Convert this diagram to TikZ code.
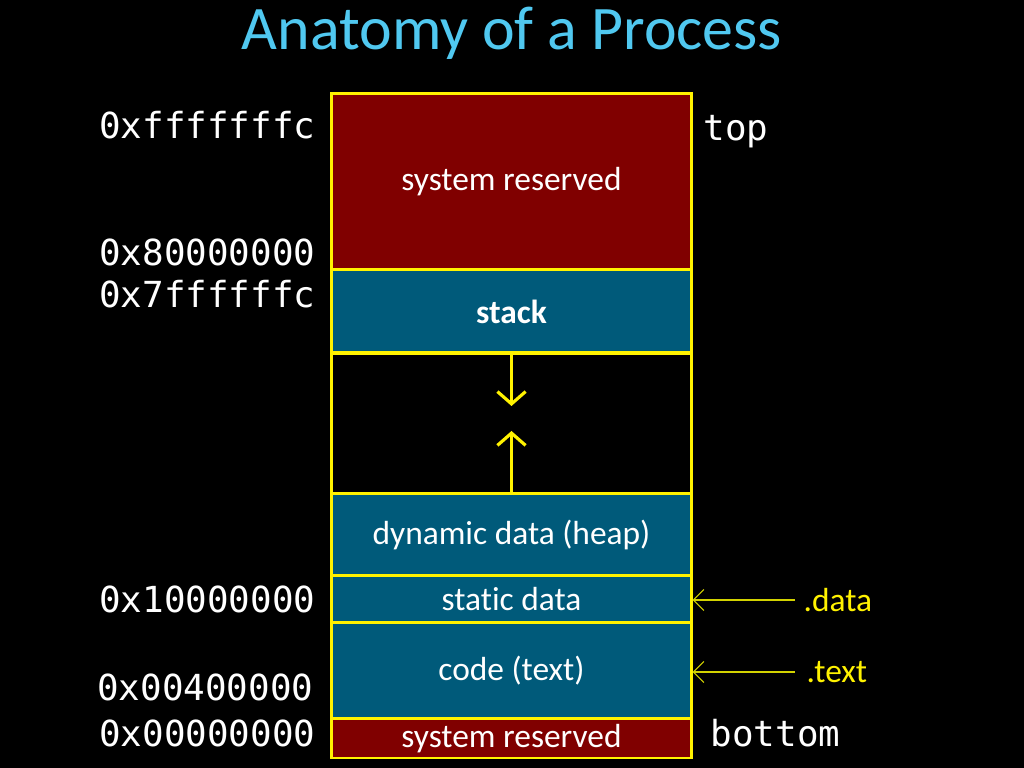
\documentclass[tikz,border=0pt]{standalone}
\usepackage{fontspec}
\setmainfont{Carlito}[Ligatures=NoCommon]
\setmonofont{DejaVu Sans Mono}
\usetikzlibrary{arrows.meta}

\definecolor{sysred}{RGB}{128,0,0}
\definecolor{segblue}{RGB}{0,90,122}
\definecolor{titleblue}{RGB}{80,200,240}
\definecolor{ptryellow}{RGB}{210,210,0}

\begin{document}
\begin{tikzpicture}[
  x=0.01cm, y=-0.01cm,
  % memory segments
  seg/.style={rectangle, draw=yellow, line width=0.85pt, minimum width=3.59cm, inner sep=0pt, text=white, font=\fontsize{9.5}{11}\selectfont},
  sysres/.style={seg, fill=sysred},
  region/.style={seg, fill=segblue},
  % addresses and ends
  addr/.style={text=white, font=\ttfamily\fontsize{10.2}{12}\selectfont, anchor=east, inner sep=0pt},
  % section names
  sect/.style={text=yellow, font=\fontsize{9.5}{11}\selectfont, anchor=west, inner sep=0pt},
  % growth arrows
  growarrow/.style={draw=yellow, line width=0.9pt, -{Straight Barb[length=3.5pt, width=8pt, line width=0.9pt]}},
  % section pointers
  ptr/.style={draw=ptryellow, line width=0.3pt, -{Straight Barb[length=3pt, width=6pt]}}
]

% background and margins
\fill[black] (0,0) rectangle (1024,768);
\useasboundingbox (0,0) rectangle (1024,768);

% === Title ===
\node[text=titleblue, font=\fontsize{17.6}{20}\selectfont] (title) at (512,33) {Anatomy of a Process};

% === Segments, top to bottom ===
\node[sysres, minimum height=1.76cm] (systop) at (511.5,182) {system reserved};
\node[region, minimum height=0.83cm, font=\fontsize{9.5}{11}\selectfont\bfseries] (stack) at (511.5,311.5) {stack};
\node[seg, minimum height=1.41cm] (gap) at (511.5,423.5) {};
\node[region, minimum height=0.82cm] (heap) at (511.5,535) {dynamic data (heap)};
\node[region, minimum height=0.47cm] (static) at (511.5,599.5) {static data};
\node[region, minimum height=0.96cm] (code) at (511.5,671) {code (text)};
\node[sysres, minimum height=0.39cm] (sysbot) at (511.5,738.5) {system reserved};

% === Growth arrows ===
\coordinate (stackend) at (511.5,406);
\coordinate (heapend) at (511.5,431);
\draw[growarrow] (stack.south) -- (stackend);
\draw[growarrow] (heap.north) -- (heapend);

% === Addresses ===
\node[addr] (atop) at (316,125) {0xfffffffc};
\node[addr] (akern) at (316,252) {0x80000000};
\node[addr] (astack) at (316,294) {0x7ffffffc};
\node[addr] (adata) at (316,599) {0x10000000};
\node[addr] (atext) at (314,687) {0x00400000};
\node[addr] (azero) at (316,733) {0x00000000};

% === Ends ===
\node[addr, anchor=west] (top) at (703,132) {top};
\node[addr, anchor=west] (bottom) at (710,733) {bottom};

% === Sections ===
\node[sect] (data) at (803,600) {.data};
\node[sect] (text) at (806,672) {.text};
\draw[ptr] ([xshift=-0.08cm]data.west) -- (static.east |- data.west);
\draw[ptr] ([xshift=-0.11cm]text.west) -- (code.east |- text.west);

\end{tikzpicture}
\end{document}
